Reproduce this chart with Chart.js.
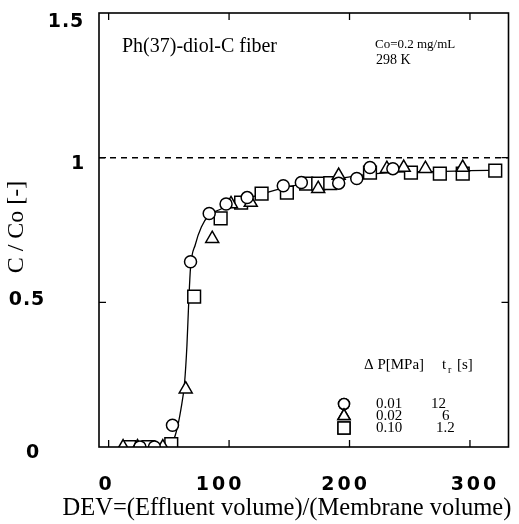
<!DOCTYPE html>
<html>
<head>
<meta charset="utf-8">
<script src="https://cdn.jsdelivr.net/npm/chart.js@4.4.1/dist/chart.umd.min.js"></script>
<style>
  html, body { margin: 0; padding: 0; background: #fff; }
  canvas { display: block; }
</style>
</head>
<body>
<canvas id="chart" width="519" height="524"></canvas>
<script>
// Breakthrough data: DEV vs C/Co for three pressures.
const circleDEV = [26, 38, 53, 68, 83.5, 97.5, 115, 145, 160, 191, 206, 217, 236];
const circleC   = [0, 0, 0.075, 0.64, 0.807, 0.84, 0.862, 0.903, 0.914, 0.912, 0.928, 0.966, 0.962];

const triangleDEV = [12, 24, 45, 64, 86, 101.6, 118, 174, 191, 231, 245, 263, 294];
const triangleC   = [0, 0, 0, 0.2, 0.72, 0.84, 0.845, 0.893, 0.938, 0.962, 0.966, 0.962, 0.966];

const squareDEV = [17, 33, 52, 71, 93, 110, 127, 148, 164, 174, 184, 217, 251, 275, 294, 321];
const squareC   = [0, 0, 0.01, 0.52, 0.79, 0.845, 0.876, 0.879, 0.91, 0.91, 0.912, 0.948, 0.948, 0.945, 0.945, 0.955];

// hand-drawn fitted curve through the points
const fitDEV = [8, 45, 52, 56, 60, 63, 65, 66.5, 68, 72, 77, 83, 92, 100, 120, 150, 180, 210, 240, 270, 300, 323];
const fitC   = [0, 0, 0.01, 0.05, 0.13, 0.22, 0.35, 0.5, 0.62, 0.7, 0.76, 0.8, 0.82, 0.835, 0.865, 0.9, 0.92, 0.94, 0.95, 0.952, 0.955, 0.957];

const xTicks = [0, 100, 200, 300];
const yTicks = [0, 0.5, 1, 1.5];
const yTickText = ['0', '0.5', '1', '1.5'];

const xRange = [-8, 332];
const yRange = [0, 1.5];

const legendRows = [
  { style: 'circle',   dp: '0.01', tr: '12' },
  { style: 'triangle', dp: '0.02', tr: '6' },
  { style: 'rect',     dp: '0.10', tr: '1.2' },
];

const toXY = (xs, ys) => xs.map((x, i) => ({ x, y: ys[i] }));

const markerStyle = (style, radius) => ({
  showLine: false,
  pointStyle: style,
  pointRadius: radius,
  pointHoverRadius: radius,
  pointBorderColor: '#000',
  pointBackgroundColor: '#fff',
  pointBorderWidth: 1.5,
});

// Frame, inward ticks, tick labels, axis titles and annotations.
// Label positions in the scan are a bit irregular, hence the small offsets.
const decorations = {
  id: 'decorations',
  afterDatasetsDraw(chart) {
    const { ctx, chartArea: a, scales: { x, y } } = chart;
    ctx.save();
    ctx.strokeStyle = '#000';
    ctx.fillStyle = '#000';

    ctx.lineWidth = 1.6;
    ctx.strokeRect(a.left, a.top, a.right - a.left, a.bottom - a.top);

    ctx.lineWidth = 1.3;
    ctx.beginPath();
    xTicks.forEach((v) => {
      const px = x.getPixelForValue(v);
      ctx.moveTo(px, a.bottom); ctx.lineTo(px, a.bottom - 7);
      ctx.moveTo(px, a.top);    ctx.lineTo(px, a.top + 7);
    });
    yTicks.slice(1, -1).forEach((v) => {
      const py = y.getPixelForValue(v);
      ctx.moveTo(a.left, py);  ctx.lineTo(a.left + 7, py);
      ctx.moveTo(a.right, py); ctx.lineTo(a.right - 7, py);
    });
    ctx.stroke();

    // tick labels
    ctx.font = 'bold 19px "DejaVu Sans"';
    ctx.textAlign = 'center';
    ctx.textBaseline = 'middle';
    ctx.letterSpacing = '3px';
    const xDx = [-2, -9, -4, 5];
    xTicks.forEach((v, i) => {
      ctx.fillText(String(v), x.getPixelForValue(v) + xDx[i], 485);
    });
    ctx.letterSpacing = '1px';
    const yPos = [[33, 6], [27, -2], [78, 6], [66, 9]];
    yTicks.forEach((v, i) => {
      ctx.fillText(yTickText[i], yPos[i][0], y.getPixelForValue(v) + yPos[i][1]);
    });
    ctx.letterSpacing = '0px';

    // axis titles
    ctx.font = '24.5px "Liberation Serif"';
    ctx.fillText('DEV=(Effluent volume)/(Membrane volume)', 287, 509);
    ctx.save();
    ctx.translate(17, 227);
    ctx.rotate(-Math.PI / 2);
    ctx.font = '24px "Liberation Serif"';
    ctx.fillText('C / Co [-]', 0, 0);
    ctx.restore();

    // annotations
    ctx.textAlign = 'left';
    ctx.font = '20px "Liberation Serif"';
    ctx.fillText('Ph(37)-diol-C fiber', 122, 47);
    ctx.font = '13px "Liberation Serif"';
    ctx.fillText('Co=0.2 mg/mL', 375, 45);
    ctx.font = '14px "Liberation Serif"';
    ctx.fillText('298 K', 376, 60);

    // legend
    ctx.font = '15px "Liberation Serif"';
    ctx.fillText('\u0394 P[MPa]', 364, 365);
    ctx.fillText('t', 442, 365);
    ctx.font = '10px "Liberation Serif"';
    ctx.fillText('r', 448, 370);
    ctx.font = '15px "Liberation Serif"';
    ctx.fillText('[s]', 457, 365);
    const rowY = [404, 416, 428];
    const trX = [431, 442, 436];
    legendRows.forEach((r, i) => {
      const radius = r.style === 'rect' ? 8.5 : r.style === 'triangle' ? 7 : 5.5;
      ctx.lineWidth = 1.5;
      Chart.helpers.drawPoint(ctx, { pointStyle: r.style, radius, borderWidth: 1.5 }, 344, rowY[i]);
      ctx.fillStyle = '#fff';
      ctx.fill();
      ctx.fillStyle = '#000';
      ctx.stroke();
      ctx.fillText(r.dp, 376, rowY[i]);
      ctx.fillText(r.tr, trX[i], rowY[i]);
    });
    ctx.restore();
  },
};

new Chart(document.getElementById('chart'), {
  type: 'scatter',
  data: {
    datasets: [
      { data: toXY(circleDEV, circleC), ...markerStyle('circle', 6) },
      { data: toXY(triangleDEV, triangleC), ...markerStyle('triangle', 7.5) },
      { data: toXY(squareDEV, squareC), ...markerStyle('rect', 9) },
      {
        data: toXY(fitDEV, fitC),
        showLine: true,
        borderColor: '#000',
        borderWidth: 1.3,
        pointRadius: 0,
        cubicInterpolationMode: 'monotone',
      },
      {
        data: [{ x: xRange[0], y: 1 }, { x: xRange[1], y: 1 }],
        showLine: true,
        borderColor: '#000',
        borderWidth: 1.5,
        borderDash: [6, 5],
        pointRadius: 0,
      },
    ],
  },
  options: {
    responsive: false,
    animation: false,
    devicePixelRatio: 1,
    layout: { padding: { left: 99, right: 8, top: 13, bottom: 77 } },
    plugins: { legend: { display: false }, tooltip: { enabled: false } },
    scales: {
      x: { type: 'linear', min: xRange[0], max: xRange[1], display: false },
      y: { type: 'linear', min: yRange[0], max: yRange[1], display: false },
    },
  },
  plugins: [decorations],
});
</script>
</body>
</html>
